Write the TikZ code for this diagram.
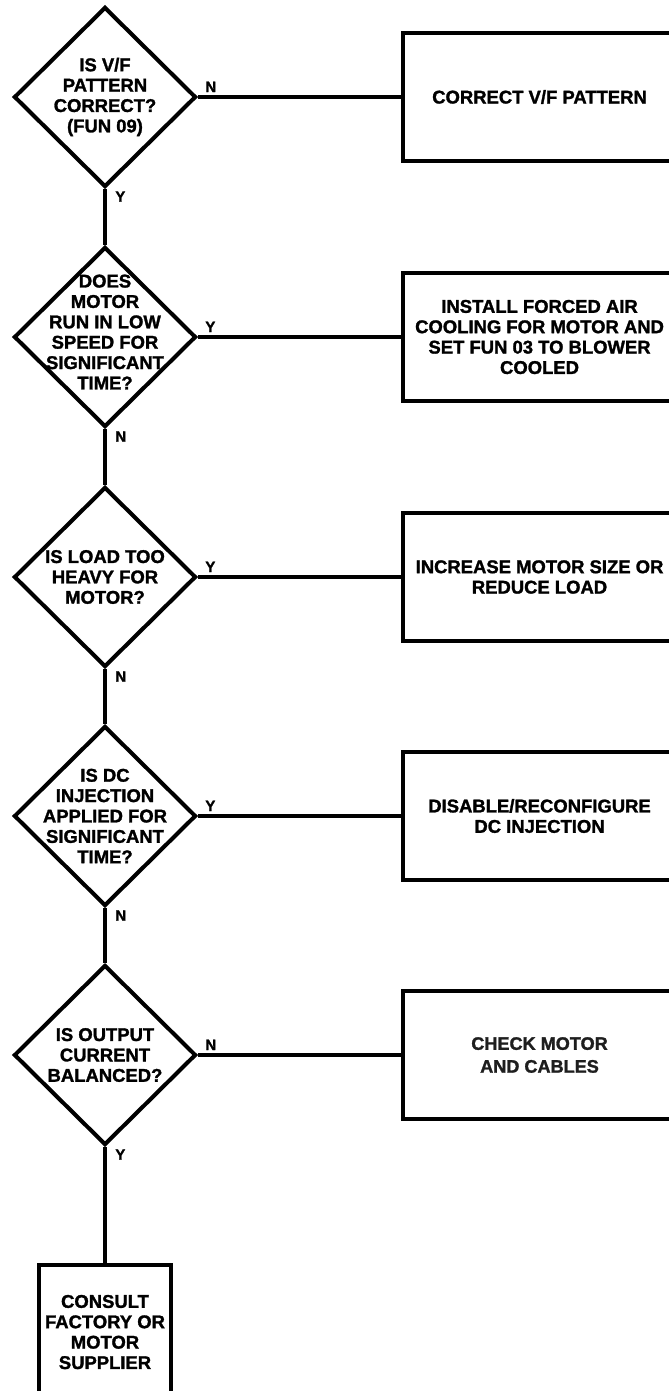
\documentclass[tikz,border=0pt]{standalone}
\usepackage{fontspec}
\setmainfont{Liberation Sans}[BoldFeatures={FakeBold=1.5}]
\usepackage{tikz}
\usetikzlibrary{shapes.geometric, positioning, calc}
\definecolor{inkBlack}{HTML}{000000}
\definecolor{inkSoft}{HTML}{1E1E1E}
\tikzstyle{decision} = [diamond, draw=inkBlack, line width=2.3pt,
  minimum width=3.64cm, minimum height=3.6cm, inner sep=0pt]
\tikzstyle{qtext} = [align=center, inner sep=0pt,
  font=\bfseries\fontsize{10.5}{11.6}\selectfont]
\tikzstyle{action} = [rectangle, draw=inkBlack, line width=2.3pt,
  minimum width=5.46cm, minimum height=2.56cm, align=center,
  font=\bfseries\fontsize{10.5}{11.6}\selectfont]
\tikzstyle{yn} = [font=\bfseries\fontsize{8.5}{9}\selectfont, inner sep=0pt]
\tikzstyle{link} = [line width=2.3pt, color=inkBlack]

\begin{document}
\begin{tikzpicture}
  \useasboundingbox (0,0) rectangle (13.36,-27.82);

  % Decisions
  \node[decision] (dvf) at (2.1,-1.94) {};
  \node[decision] (dlow) at (2.1,-6.74) {};
  \node[decision] (dload) at (2.1,-11.54) {};
  \node[decision] (ddc) at (2.1,-16.32) {};
  \node[decision] (dbal) at (2.1,-21.1) {};

  \node[qtext] (tvf) at (dvf.center) {IS V/F\\PATTERN\\CORRECT?\\(FUN 09)};
  \node[qtext, yshift=0.1cm] (tlow) at (dlow.center) {DOES\\MOTOR\\RUN IN LOW\\SPEED FOR\\SIGNIFICANT\\TIME?};
  \node[qtext] (tload) at (dload.center) {IS LOAD TOO\\HEAVY FOR\\MOTOR?};
  \node[qtext] (tdc) at (ddc.center) {IS DC\\INJECTION\\APPLIED FOR\\SIGNIFICANT\\TIME?};
  \node[qtext] (tbal) at (dbal.center) {IS OUTPUT\\CURRENT\\BALANCED?};

  % Actions
  \node[action, right=4.06cm of dvf] (avf) {CORRECT V/F PATTERN};
  \node[action, right=4.06cm of dlow] (acool) {INSTALL FORCED AIR\\COOLING FOR MOTOR AND\\SET FUN 03 TO BLOWER\\COOLED};
  \node[action, right=4.06cm of dload] (asize) {INCREASE MOTOR SIZE OR\\REDUCE LOAD};
  \node[action, right=4.06cm of ddc] (adc) {DISABLE/RECONFIGURE\\DC INJECTION};
  \node[action, right=4.06cm of dbal, text=inkSoft,
    font=\bfseries\fontsize{10.3}{13}\selectfont] (acable) {CHECK MOTOR\\AND CABLES};
  \node[action, minimum width=2.6cm, minimum height=2.68cm,
    below=2.32cm of dbal] (consult) {CONSULT\\FACTORY OR\\MOTOR\\SUPPLIER};

  % Connectors
  \draw[link] (dvf.south) -- (dlow.north);
  \draw[link] (dlow.south) -- (dload.north);
  \draw[link] (dload.south) -- (ddc.north);
  \draw[link] (ddc.south) -- (dbal.north);
  \draw[link] (dbal.south) -- (consult.north);
  \draw[link] (dvf.east) -- (avf.west);
  \draw[link] (dlow.east) -- (acool.west);
  \draw[link] (dload.east) -- (asize.west);
  \draw[link] (ddc.east) -- (adc.west);
  \draw[link] (dbal.east) -- (acable.west);

  % Branch letters
  \node[yn, anchor=base west] (nvf) at ($(dvf.east)+(0.14,0.1)$) {N};
  \node[yn, anchor=north west] (yvf) at ($(dvf.south)+(0.2,-0.04)$) {Y};
  \node[yn, anchor=base west] (ylow) at ($(dlow.east)+(0.14,0.1)$) {Y};
  \node[yn, anchor=north west] (nlow) at ($(dlow.south)+(0.2,-0.04)$) {N};
  \node[yn, anchor=base west] (yload) at ($(dload.east)+(0.14,0.1)$) {Y};
  \node[yn, anchor=north west] (nload) at ($(dload.south)+(0.2,-0.04)$) {N};
  \node[yn, anchor=base west] (ydc) at ($(ddc.east)+(0.14,0.1)$) {Y};
  \node[yn, anchor=north west] (ndc) at ($(ddc.south)+(0.2,-0.04)$) {N};
  \node[yn, anchor=base west] (nbal) at ($(dbal.east)+(0.14,0.1)$) {N};
  \node[yn, anchor=north west] (ybal) at ($(dbal.south)+(0.2,-0.04)$) {Y};
\end{tikzpicture}
\end{document}
